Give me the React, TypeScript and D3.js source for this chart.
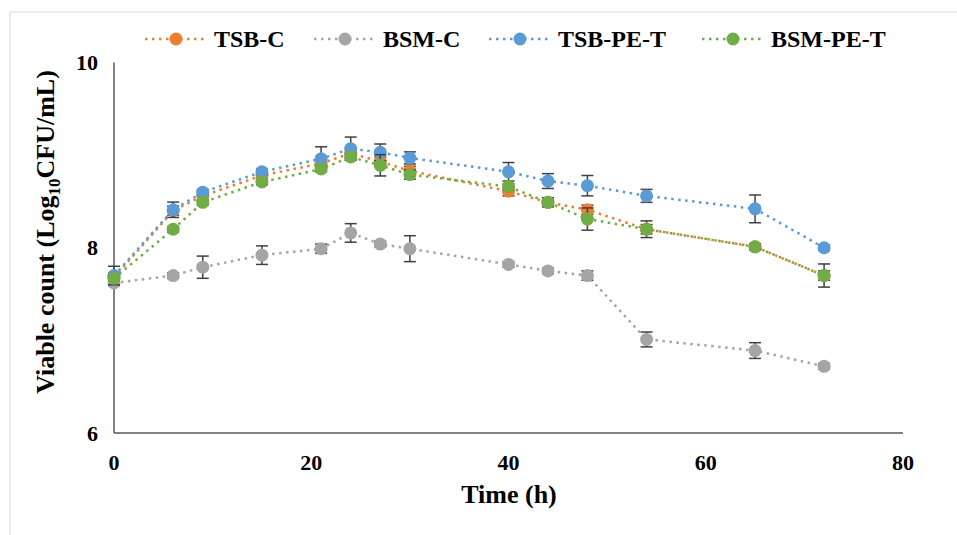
import React from "react";
import * as d3 from "d3";

const times = [0, 6, 9, 15, 21, 24, 27, 30, 40, 44, 48, 54, 65, 72];
const seriesNames = ["TSB-C", "BSM-C", "TSB-PE-T", "BSM-PE-T"];
const seriesColors = ["#ED7D31", "#A5A5A5", "#5B9BD5", "#70AD47"];
const tsbC = [7.68, 8.4, 8.56, 8.78, 8.91, 9.02, 8.93, 8.83, 8.61, 8.49, 8.41, 8.2, 8.01, 7.7];
const bsmC = [7.62, 7.7, 7.79, 7.92, 7.99, 8.16, 8.04, 7.99, 7.82, 7.75, 7.7, 7.01, 6.89, 6.72];
const tsbPeT = [7.7, 8.41, 8.6, 8.82, 8.96, 9.07, 9.03, 8.97, 8.82, 8.72, 8.67, 8.56, 8.42, 8.0];
const bsmPeT = [7.67, 8.2, 8.49, 8.71, 8.85, 8.98, 8.89, 8.79, 8.66, 8.49, 8.31, 8.2, 8.01, 7.7];
const tsbCErr = [0.05, 0.05, 0.05, 0.05, 0.05, 0.05, 0.05, 0.05, 0.05, 0.05, 0.05, 0.05, 0.03, 0.05];
const bsmCErr = [0.03, 0.03, 0.12, 0.1, 0.05, 0.1, 0.03, 0.14, 0.03, 0.03, 0.05, 0.08, 0.085, 0.03];
const tsbPeTErr = [0.1, 0.083, 0.03, 0.03, 0.13, 0.125, 0.09, 0.065, 0.1, 0.08, 0.11, 0.07, 0.15, 0.03];
const bsmPeTErr = [0.03, 0.03, 0.03, 0.03, 0.03, 0.03, 0.115, 0.05, 0.03, 0.03, 0.12, 0.09, 0.03, 0.125];
const xTicks = [0, 20, 40, 60, 80];
const yTicks = [6, 8, 10];

const values = [tsbC, bsmC, tsbPeT, bsmPeT];
const errors = [tsbCErr, bsmCErr, tsbPeTErr, bsmPeTErr];

const W = 957;
const H = 535;
const FONT = "'Liberation Serif', 'Times New Roman', serif";

export default function App() {
  const x = d3.scaleLinear().domain([0, 80]).range([114, 903]);
  const y = d3.scaleLinear().domain([6, 10]).range([433, 62.5]);
  const line = d3
    .line<number>()
    .x((_, i) => x(times[i]))
    .y((d) => y(d));

  const legendX = [176, 345, 520, 733];
  const legendY = 39;

  return (
    <div style={{ position: "absolute", left: 0, top: 0 }}>
      <svg width={W} height={H} style={{ display: "block", background: "#fff" }}>
        <rect x={0} y={0} width={W} height={H} fill="#fff" />
        {/* outer frame */}
        <line x1={10} y1={12} x2={W} y2={12} stroke="#E6E6E6" strokeWidth={1.5} />
        <line x1={10} y1={12} x2={10} y2={H} stroke="#E6E6E6" strokeWidth={1.5} />

        {/* axes */}
        <line x1={x(0)} y1={y(6)} x2={x(80)} y2={y(6)} stroke="#595959" strokeWidth={1.5} />
        <line x1={x(0)} y1={y(6)} x2={x(0)} y2={y(10)} stroke="#595959" strokeWidth={1.5} />

        {yTicks.map((t) => (
          <text
            key={"y" + t}
            x={98}
            y={y(t)}
            dy="0.35em"
            textAnchor="end"
            fontFamily={FONT}
            fontWeight="bold"
            fontSize={22}
            fill="#000"
          >
            {t}
          </text>
        ))}
        {xTicks.map((t) => (
          <text
            key={"x" + t}
            x={x(t)}
            y={470}
            textAnchor="middle"
            fontFamily={FONT}
            fontWeight="bold"
            fontSize={22}
            fill="#000"
          >
            {t}
          </text>
        ))}

        <text
          x={509}
          y={503}
          textAnchor="middle"
          fontFamily={FONT}
          fontWeight="bold"
          fontSize={26}
          fill="#000"
        >
          Time (h)
        </text>
        <text
          transform={`translate(54,232) rotate(-90)`}
          textAnchor="middle"
          fontFamily={FONT}
          fontWeight="bold"
          fontSize={26}
          fill="#000"
        >
          Viable count (Log
          <tspan fontSize={17} dy={6}>10</tspan>
          <tspan dy={-6}>CFU/mL)</tspan>
        </text>

        {/* series */}
        {values.map((vals, si) => (
          <g key={seriesNames[si]}>
            <path
              d={line(vals) || ""}
              fill="none"
              stroke={seriesColors[si]}
              strokeWidth={2.5}
              strokeDasharray="2.5 4.5"
            />
            {vals.map((v, i) => {
              const e = errors[si][i];
              const cx = x(times[i]);
              return (
                <g key={i} stroke="#404040" strokeWidth={1.5}>
                  <line x1={cx} x2={cx} y1={y(v + e)} y2={y(v - e)} />
                  <line x1={cx - 6} x2={cx + 6} y1={y(v + e)} y2={y(v + e)} />
                  <line x1={cx - 6} x2={cx + 6} y1={y(v - e)} y2={y(v - e)} />
                </g>
              );
            })}
            {vals.map((v, i) => (
              <circle key={"c" + i} cx={x(times[i])} cy={y(v)} r={6.5} fill={seriesColors[si]} />
            ))}
          </g>
        ))}

        {/* legend */}
        {seriesNames.map((n, i) => (
          <g key={"lg" + n}>
            <line
              x1={legendX[i] - 31}
              x2={legendX[i] + 29}
              y1={legendY}
              y2={legendY}
              stroke={seriesColors[i]}
              strokeWidth={2.5}
              strokeDasharray="2.5 4.5"
            />
            <circle cx={legendX[i]} cy={legendY} r={6.5} fill={seriesColors[i]} />
            <text
              x={legendX[i] + 38}
              y={legendY}
              dy="0.35em"
              fontFamily={FONT}
              fontWeight="bold"
              fontSize={24}
              fill="#000"
            >
              {n}
            </text>
          </g>
        ))}
      </svg>
    </div>
  );
}
